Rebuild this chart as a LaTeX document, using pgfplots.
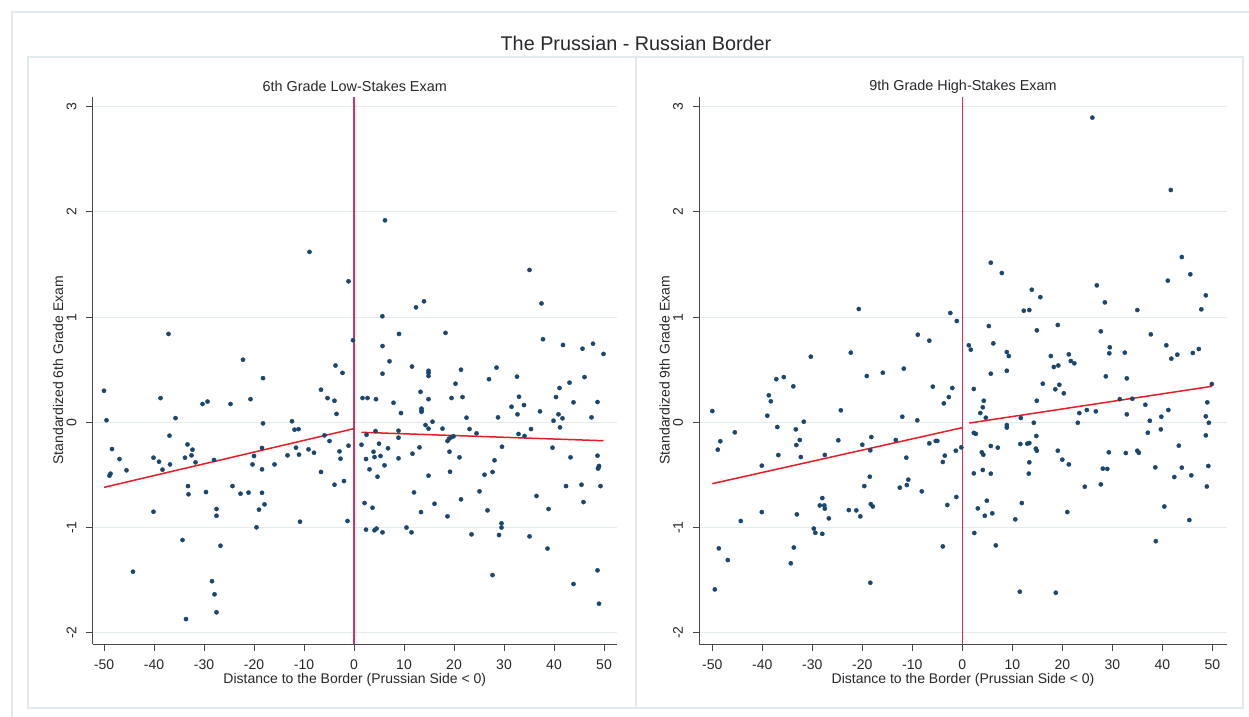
\documentclass[border=0pt]{standalone}
\usepackage{fontspec}
\setmainfont{Liberation Sans}
\usepackage{pgfplots}
\pgfplotsset{compat=1.18}
\usepackage{pgfplotstable}
\definecolor{stnavy}{RGB}{26,71,111}
\definecolor{fitred}{RGB}{232,28,36}
\definecolor{vline}{RGB}{208,52,90}
\definecolor{gridc}{RGB}{226,235,238}
\definecolor{framec}{RGB}{226,234,237}
\definecolor{txt}{RGB}{40,40,45}

% 6th grade, left panel
\pgfplotstableread{
x y
-37.1 0.84
-22.2 0.595
-8.9 1.62
-1.1 1.34
-0.2 0.78
-3.7 0.54
-2.3 0.47
-50.0 0.30
-49.5 0.02
-38.7 0.23
-18.2 0.42
-6.6 0.31
-5.3 0.23
-3.9 0.205
-3.5 0.08
-30.3 0.174
-29.3 0.197
-24.7 0.174
-20.7 0.22
-35.7 0.04
-18.2 -0.01
-12.4 0.01
-11.9 -0.07
-11.1 -0.065
-36.9 -0.127
-48.4 -0.254
-46.9 -0.349
-45.5 -0.456
-48.7 -0.488
-48.9 -0.507
-40.1 -0.336
-39.0 -0.374
-38.3 -0.45
-36.8 -0.40
-33.3 -0.21
-32.3 -0.26
-32.5 -0.314
-33.8 -0.336
-31.7 -0.38
-28.0 -0.358
-33.2 -0.606
-33.1 -0.684
-29.6 -0.663
-40.1 -0.85
-27.5 -0.824
-27.5 -0.888
-24.3 -0.606
-22.7 -0.678
-21.1 -0.668
-18.4 -0.244
-20.0 -0.32
-20.3 -0.40
-18.4 -0.447
-18.4 -0.67
-19.0 -0.83
-17.9 -0.78
-19.5 -0.998
-15.9 -0.40
-13.3 -0.314
-11.6 -0.241
-11.0 -0.307
-9.1 -0.257
-8.0 -0.289
-5.9 -0.124
-4.9 -0.178
-2.9 -0.276
-2.7 -0.346
-1.1 -0.222
-6.6 -0.472
-3.9 -0.593
-2.0 -0.558
-10.8 -0.945
-1.3 -0.938
-34.3 -1.119
-26.7 -1.173
-44.2 -1.42
-28.4 -1.51
-27.9 -1.635
-27.5 -1.806
-33.6 -1.87
6.2 1.92
5.67 1.008
5.7 0.725
7.1 0.58
9.0 0.84
11.6 0.53
12.4 1.093
14.0 1.15
14.9 0.49
14.9 0.47
14.9 0.44
18.3 0.85
21.4 0.50
28.5 0.52
35.1 1.448
37.5 1.13
37.8 0.79
41.8 0.735
45.7 0.70
47.8 0.747
49.9 0.65
5.7 0.462
1.7 0.231
2.7 0.231
4.4 0.22
7.9 0.186
9.4 0.088
13.3 0.29
13.5 0.13
13.5 0.11
13.5 0.10
14.9 0.22
14.3 -0.026
14.9 -0.06
15.7 0.006
20.3 0.367
19.5 0.231
21.7 0.24
22.5 0.044
23.1 -0.064
24.5 -0.105
17.7 -0.06
27.0 0.41
28.8 0.047
32.6 0.434
33.0 0.243
31.5 0.148
34.0 0.164
32.7 0.076
35.4 -0.064
32.9 -0.111
34.1 -0.13
37.2 0.104
40.4 0.24
41.1 0.326
43.1 0.377
46.1 0.43
43.9 0.19
40.9 0.076
41.7 0.038
39.9 0.015
41.2 -0.048
39.7 -0.241
43.3 -0.333
47.5 0.047
48.7 0.193
48.7 -0.317
49.0 -0.415
48.9 -0.43
48.8 -0.44
49.3 -0.606
42.4 -0.606
45.5 -0.593
45.9 -0.758
36.5 -0.70
38.9 -0.824
38.7 -1.2
35.1 -1.084
43.9 -1.537
48.7 -1.407
49.0 -1.724
27.7 -1.452
29.5 -0.96
29.5 -1.0
29.0 -1.071
23.5 -1.065
26.7 -0.837
25.1 -0.656
26.1 -0.498
27.7 -0.472
28.1 -0.361
29.6 -0.232
21.4 -0.732
18.7 -0.894
16.1 -0.774
13.4 -0.853
12.0 -0.666
14.9 -0.507
19.2 -0.47
21.1 -0.333
19.1 -0.279
18.7 -0.178
19.0 -0.156
19.4 -0.143
19.9 -0.133
13.1 -0.238
11.7 -0.298
8.9 -0.08
8.9 -0.146
8.9 -0.342
6.8 -0.247
5.0 -0.203
4.3 -0.083
2.5 -0.118
1.5 -0.213
2.4 -0.349
3.1 -0.447
3.9 -0.28
4.1 -0.33
5.3 -0.32
6.1 -0.409
4.7 -0.517
2.1 -0.767
3.7 -0.812
2.4 -1.02
4.1 -1.026
4.5 -1.01
5.7 -1.046
10.5 -1.0
11.5 -1.046
}\sixth

% 9th grade, right panel
\pgfplotstableread{
x y
-20.7 1.077
-2.4 1.039
-1.1 0.963
-8.9 0.833
-6.6 0.776
-30.3 0.624
-22.3 0.662
-11.7 0.51
-19.1 0.44
-15.9 0.471
-37.2 0.41
-35.7 0.43
-33.8 0.342
-38.7 0.257
-38.3 0.20
-50.0 0.107
-39.0 0.063
-24.3 0.114
-12.0 0.053
-9.0 0.019
-5.9 0.339
-2.0 0.326
-2.7 0.24
-3.7 0.18
-31.7 0.006
-37.0 -0.045
-33.3 -0.067
-45.5 -0.095
-48.4 -0.18
-48.9 -0.26
-32.5 -0.168
-33.2 -0.216
-24.8 -0.171
-18.2 -0.14
-20.0 -0.213
-18.4 -0.266
-13.3 -0.168
-6.6 -0.20
-5.3 -0.177
-5.0 -0.177
-3.5 -0.317
-3.9 -0.377
-1.3 -0.27
-0.2 -0.238
-11.2 -0.336
-36.8 -0.311
-32.3 -0.33
-27.5 -0.31
-40.1 -0.412
-18.5 -0.517
-19.6 -0.606
-10.8 -0.545
-11.1 -0.596
-12.5 -0.621
-8.1 -0.656
-3.0 -0.786
-1.2 -0.71
-28.0 -0.72
-28.5 -0.79
-27.6 -0.79
-27.5 -0.82
-26.7 -0.913
-33.1 -0.875
-40.1 -0.853
-44.3 -0.938
-22.7 -0.834
-21.2 -0.837
-20.4 -0.894
-18.3 -0.777
-17.9 -0.80
-29.7 -1.01
-29.4 -1.05
-28.0 -1.06
-48.7 -1.198
-46.9 -1.309
-33.7 -1.19
-34.3 -1.34
-3.9 -1.18
-18.4 -1.525
-49.5 -1.588
26.0 2.896
41.7 2.208
5.7 1.517
7.9 1.419
1.3 0.732
1.7 0.69
5.3 0.915
6.2 0.75
8.9 0.668
9.3 0.63
8.9 0.49
12.3 1.061
13.4 1.067
13.9 1.26
15.6 1.19
14.9 0.874
17.7 0.63
19.1 0.925
18.3 0.526
19.2 0.54
21.3 0.646
21.7 0.583
22.4 0.561
26.9 1.302
28.5 1.14
27.7 0.865
29.5 0.713
29.4 0.656
32.5 0.662
35.0 1.067
37.7 0.836
41.1 1.346
43.9 1.571
45.6 1.407
48.7 1.207
47.8 1.074
40.8 0.732
41.8 0.605
43.0 0.643
46.1 0.659
47.3 0.697
5.7 0.462
2.3 0.317
4.3 0.205
4.1 0.143
3.6 0.088
4.7 0.044
2.3 -0.10
2.7 -0.11
16.1 0.367
18.6 0.314
19.4 0.357
20.3 0.276
14.9 0.205
11.7 0.041
8.9 -0.026
8.9 -0.05
14.3 -0.004
14.8 -0.13
11.6 -0.206
13.0 -0.203
13.4 -0.197
14.7 -0.25
14.9 -0.27
5.7 -0.225
7.1 -0.241
3.9 -0.285
4.2 -0.308
2.3 -0.485
4.1 -0.453
5.7 -0.488
13.4 -0.38
13.3 -0.488
3.1 -0.818
4.9 -0.745
4.5 -0.888
6.0 -0.865
2.4 -1.052
6.7 -1.17
10.6 -0.922
11.9 -0.767
11.5 -1.61
18.7 -1.62
19.1 -0.27
20.0 -0.355
21.3 -0.40
21.0 -0.853
23.1 -0.004
23.4 0.088
24.9 0.117
26.7 0.104
28.7 0.437
24.5 -0.612
27.7 -0.59
28.1 -0.44
29.0 -0.443
29.3 -0.285
31.5 0.22
32.9 0.076
32.9 0.418
34.0 0.224
32.7 -0.292
35.0 -0.27
35.3 -0.29
36.6 0.167
37.5 0.015
37.1 -0.099
39.8 0.053
41.2 0.117
39.7 -0.067
38.6 -0.428
40.4 -0.80
38.7 -1.13
43.3 -0.222
42.4 -0.52
43.9 -0.431
45.8 -0.504
45.4 -0.929
49.0 0.19
48.7 0.057
49.3 -0.004
48.7 -0.124
49.2 -0.415
48.9 -0.61
49.9 0.364
}\ninth

\pgfplotsset{
  panel/.style={
    scale only axis, anchor=south west,
    height=547.3bp,
    ymin=-2.107, ymax=3.095,
    axis lines*=left,
    axis line style={draw=black!72, line width=0.9bp},
    tick align=outside,
    major tick length=6.5bp,
    tick style={draw=black!72, line width=0.9bp},
    xtick={-50,-40,...,50}, ytick={-2,-1,0,1,2,3},
    ymajorgrids, grid style={draw=gridc, line width=0.9bp},
    tick label style={font=\fontsize{14bp}{16bp}\selectfont, text=txt},
    /pgf/number format/assume math mode=true,
    xticklabel style={yshift=-6bp},
    yticklabel style={xshift=-6bp, rotate=90, anchor=south},
    every axis x label/.style={at={(axis description cs:0.5,0)}, anchor=center, yshift=-36bp, font=\fontsize{14bp}{16bp}\selectfont, text=txt},
    every axis y label/.style={at={(axis description cs:0,0.5)}, xshift=-34.5bp, rotate=90, anchor=center, font=\fontsize{14bp}{16bp}\selectfont, text=txt},
    every axis title/.style={at={(axis description cs:0.5,1)}, yshift=10bp, anchor=center, font=\fontsize{14.4bp}{17bp}\selectfont, text=txt},
    clip=false,
  },
  pts/.style={only marks, mark=*, mark size=2.1bp, color=stnavy, mark options={draw=stnavy, fill=stnavy}},
  fit/.style={fitred, line width=1.5bp, no marks},
  zline/.style={vline, line width=1.6bp, no marks},
}

\begin{document}
\begin{tikzpicture}
\path[use as bounding box, fill=white] (0,0) rectangle (1249bp,717bp);
% light frames of the screenshot
\draw[framec, line width=1.2bp] (12bp,0) -- (12bp,705bp) -- (1249bp,705bp);
\draw[framec, line width=1.2bp] (28bp,9bp) rectangle (1243bp,660bp);
\draw[framec, line width=1.2bp] (636bp,9bp) -- (636bp,660bp);
\node[font=\fontsize{19.8bp}{23bp}\selectfont, text=txt] at (636bp,674bp) {The Prussian - Russian Border};

\begin{axis}[panel, at={(92.5bp,73bp)}, width=524.5bp, xmin=-52.3, xmax=52.6,
  title={6th Grade Low-Stakes Exam},
  xlabel={Distance to the Border (Prussian Side < 0)},
  ylabel={Standardized 6th Grade Exam}]
  \addplot[pts] table[x=x, y=y] {\sixth};
  \addplot[zline] coordinates {(0,-2.107) (0,3.095)};
  \addplot[fit] coordinates {(-50,-0.618) (0,-0.06)};
  \addplot[fit] coordinates {(1.5,-0.095) (49.9,-0.175)};
\end{axis}

\begin{axis}[panel, at={(699bp,73bp)}, width=528bp, xmin=-52.66, xmax=52.94,
  title={9th Grade High-Stakes Exam},
  xlabel={Distance to the Border (Prussian Side < 0)},
  ylabel={Standardized 9th Grade Exam}]
  \addplot[pts] table[x=x, y=y] {\ninth};
  \addplot[zline] coordinates {(0,-2.107) (0,3.095)};
  \addplot[fit] coordinates {(-50,-0.583) (0,-0.051)};
  \addplot[fit] coordinates {(1.4,-0.007) (49.9,0.342)};
\end{axis}
\end{tikzpicture}
\end{document}
